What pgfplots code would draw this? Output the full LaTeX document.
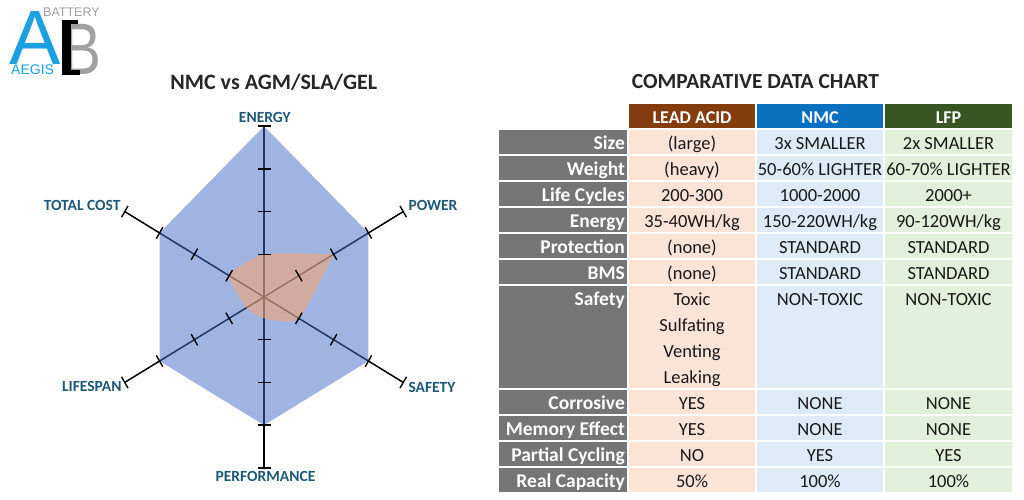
\documentclass[border=0pt]{standalone}
\usepackage{pgfplots}
\pgfplotsset{compat=1.18}
\usepackage{pgfplotstable}
\usepackage{fontspec}
\setmainfont{Carlito}
\newfontfamily\logofont{Liberation Sans}

\definecolor{hexblue}{RGB}{66,106,196}
\definecolor{tanfill}{RGB}{250,165,105}
\definecolor{lbl}{RGB}{30,88,118}
\definecolor{hdrgray}{RGB}{117,117,117}
\definecolor{leadhdr}{RGB}{130,60,14}
\definecolor{nmchdr}{RGB}{10,112,192}
\definecolor{lfphdr}{RGB}{56,86,35}
\definecolor{leadbg}{RGB}{251,227,214}
\definecolor{nmcbg}{RGB}{222,234,246}
\definecolor{lfpbg}{RGB}{226,239,218}
\definecolor{logoblue}{RGB}{28,160,226}
\definecolor{logogray}{RGB}{160,160,160}
\definecolor{bodytext}{RGB}{25,25,25}

% radar data: angle of spoke (deg), value (0-4)
% spokes: ENERGY 90, POWER 30, SAFETY -30, PERFORMANCE -90, LIFESPAN -150, TOTAL COST 150
\pgfplotstableread{
a v
90 4
30 3
-30 3
-90 3
-150 3
150 3
}\nmcdata
% AGM/SLA/GEL, starting and ending at POWER
\pgfplotstableread{
a v
30 2
-30 1
-90 0.5
-150 0.5
150 1
90 1
30 2
}\agmdata
\pgfplotstableread{
r s
0 0
1 1
2 2
3 3
4 4
}\spoketicks

\newcommand\bodyf{\fontsize{18.5}{20}\selectfont}
\newcommand\lblf{\fontsize{19.5}{21}\selectfont\bfseries}
\newcommand\hdrf{\fontsize{18}{20}\selectfont\bfseries}

\newcommand{\trow}[5]{%
  \fill[hdrgray] (499,#1) rectangle (627,#1+24);
  \fill[leadbg] (629,#1) rectangle (755,#1+24);
  \fill[nmcbg] (757,#1) rectangle (883,#1+24);
  \fill[lfpbg] (885,#1) rectangle (1012,#1+24);
  \node[anchor=base east, inner sep=0pt, white, font=\lblf] at (625,#1+19) {#2};
  \node[anchor=base, inner sep=0pt, bodytext, font=\bodyf] at (692,#1+19) {#3};
  \node[anchor=base, inner sep=0pt, bodytext, font=\bodyf] at (820,#1+19) {#4};
  \node[anchor=base, inner sep=0pt, bodytext, font=\bodyf] at (948.5,#1+19) {#5};
}

\begin{document}
\begin{tikzpicture}[x=1pt,y=1pt]
\fill[white] (0,0) rectangle (1024,499);
\useasboundingbox (0,0) rectangle (1024,499);

% ---------- radar chart ----------
\begin{axis}[at={(264pt,202pt)}, anchor=center, hide axis, clip=false,
  x=40.2pt, y=42.7pt, xmin=-5, xmax=5, ymin=-5, ymax=5]
\pgfplotsinvokeforeach{90,30,-30,-90,-150,150}{
  \addplot[black, line width=1.5pt, mark=-, mark size=6.5pt,
    mark indices={2,3,4,5}, mark options={rotate=#1-90, line width=1.4pt}]
    table[x expr={\thisrow{r}*cos(#1)}, y expr={\thisrow{s}*sin(#1)}] {\spoketicks};
}
\addplot[draw=none, fill=hexblue, fill opacity=0.5]
  table[x expr={\thisrow{v}*cos(\thisrow{a})}, y expr={\thisrow{v}*sin(\thisrow{a})}] {\nmcdata};
\addplot[draw=none, fill=tanfill, fill opacity=0.55, smooth, tension=0.35]
  table[x expr={\thisrow{v}*cos(\thisrow{a})}, y expr={\thisrow{v}*sin(\thisrow{a})}] {\agmdata};
\end{axis}

\begin{scope}[shift={(0,499)}, y=-1pt]
% logo
\node[anchor=base west, inner sep=0pt, logoblue, font=\logofont\fontsize{77}{77}\selectfont] at (9,65) {A};
\node[anchor=base west, inner sep=0pt, logogray, font=\logofont\fontsize{73}{73}\selectfont, xscale=0.8] at (62,75) {B};
\fill[black] (62,20) rectangle (71,75);
\fill[black] (62,20) rectangle (78,24);
\fill[black] (62,70) rectangle (80,75);
\node[anchor=base west, inner sep=0pt, logogray, font=\logofont\fontsize{12.5}{13}\selectfont] at (43,17) {BATTERY};
\node[anchor=base west, inner sep=0pt, logoblue, font=\logofont\fontsize{14}{15}\selectfont] at (11,75) {AEGIS};

% radar titles and labels
\node[anchor=base, inner sep=0pt, font=\fontsize{22}{24}\selectfont\bfseries, black!85] at (273.7,89.3) {NMC vs AGM/SLA/GEL};
\begin{scope}[every node/.style={inner sep=0pt, lbl, font=\fontsize{15.5}{17}\selectfont\bfseries}]
\node[anchor=base] at (264.8,122.7) {ENERGY};
\node[anchor=base] at (265.5,481) {PERFORMANCE};
\node[anchor=base east] at (120.7,210.7) {TOTAL COST};
\node[anchor=base west] at (408.3,210.7) {POWER};
\node[anchor=base east] at (121.7,391.7) {LIFESPAN};
\node[anchor=base west] at (408.3,392) {SAFETY};
\end{scope}

% ---------- table ----------
\node[anchor=base, inner sep=0pt, font=\fontsize{21.5}{23}\selectfont\bfseries, black!85] at (755.5,88.3) {COMPARATIVE DATA CHART};
\fill[leadhdr] (629,104) rectangle (755,128);
\fill[nmchdr] (757,104) rectangle (883,128);
\fill[lfphdr] (885,104) rectangle (1012,128);
\node[anchor=base, inner sep=0pt, white, font=\hdrf] at (692,124) {LEAD ACID};
\node[anchor=base, inner sep=0pt, white, font=\hdrf] at (820,124) {NMC};
\node[anchor=base, inner sep=0pt, white, font=\hdrf] at (948.5,124) {LFP};

\trow{130}{Size}{(large)}{3x SMALLER}{2x SMALLER}
\trow{156}{Weight}{(heavy)}{50-60\% LIGHTER}{60-70\% LIGHTER}
\trow{182}{Life Cycles}{200-300}{1000-2000}{2000+}
\trow{208}{Energy}{35-40WH/kg}{150-220WH/kg}{90-120WH/kg}
\trow{234}{Protection}{(none)}{STANDARD}{STANDARD}
\trow{260}{BMS}{(none)}{STANDARD}{STANDARD}
% Safety row (four lines tall)
\fill[hdrgray] (499,286) rectangle (627,388);
\fill[leadbg] (629,286) rectangle (755,388);
\fill[nmcbg] (757,286) rectangle (883,388);
\fill[lfpbg] (885,286) rectangle (1012,388);
\node[anchor=base east, inner sep=0pt, white, font=\lblf] at (625,305) {Safety};
\begin{scope}[every node/.style={anchor=base, inner sep=0pt, bodytext, font=\bodyf}]
\node at (692,305) {Toxic};
\node at (692,331) {Sulfating};
\node at (692,357) {Venting};
\node at (692,383) {Leaking};
\node at (820,305) {NON-TOXIC};
\node at (948.5,305) {NON-TOXIC};
\end{scope}
\trow{390}{Corrosive}{YES}{NONE}{NONE}
\trow{416}{Memory Effect}{YES}{NONE}{NONE}
\trow{442}{Partial Cycling}{NO}{YES}{YES}
\trow{468}{Real Capacity}{50\%}{100\%}{100\%}
\end{scope}
\end{tikzpicture}
\end{document}
